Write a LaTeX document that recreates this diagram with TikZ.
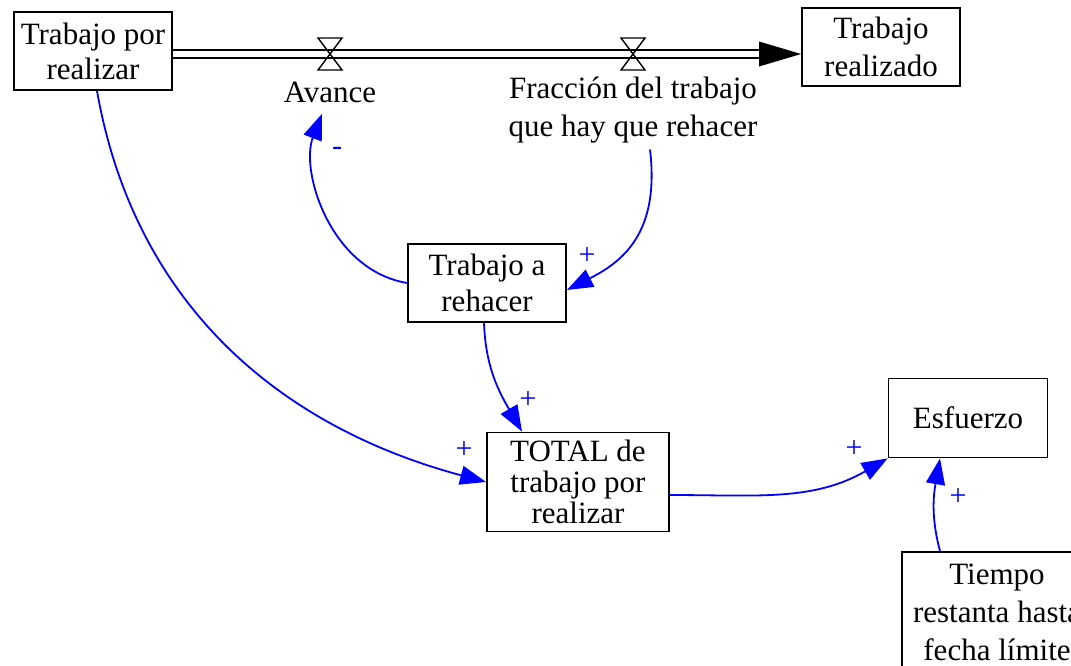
\documentclass[tikz,border=0pt]{standalone}
\usepackage{fontspec}
\setmainfont{Liberation Serif}
\usepackage{tikz}
\usetikzlibrary{positioning, arrows.meta}
\tikzstyle{stock} = [draw, line width=0.9pt, align=center, minimum width=79pt, minimum height=39pt, inner sep=2pt]
\tikzstyle{link} = [blue, line width=0.9pt, -{Triangle[length=13pt,width=9.5pt]}]
\tikzstyle{pipe} = [double, double distance=3.3pt, line width=0.7pt]
\tikzstyle{valve} = [draw, line width=0.7pt]
\tikzstyle{sign} = [text=blue, inner sep=0pt, font=\fontsize{15}{15}\selectfont]
\newcommand{\valvula}[1]{\draw[valve] ([shift={(-12,-16)}]#1) -- ([shift={(12,-16)}]#1) -- ([shift={(-12,16)}]#1) -- ([shift={(12,16)}]#1) -- cycle;}

\begin{document}
\begin{tikzpicture}[x=0.5pt, y=-0.5pt, every node/.style={font=\fontsize{15.5}{18}\selectfont}]
  \useasboundingbox (0,0) rectangle (1071,665);

  % Stocks
  \node[stock, font=\fontsize{15.5}{17.5}\selectfont] (tp) at (93,51) {Trabajo por\\realizar};
  \node[stock, font=\fontsize{15.5}{19}\selectfont] (tr) at (881,47) {Trabajo\\realizado};

  % Flow with its two valves
  \draw[pipe] ([yshift=-1.5pt]tp.east) -- ([xshift=-21pt,yshift=-3.5pt]tr.west);
  \fill ([yshift=-3.5pt]tr.west) -- ++(-42,-12.5) -- ++(0,25) -- cycle;
  \coordinate (v1) at (330,54);
  \coordinate (v2) at (633,54);
  \valvula{v1}
  \valvula{v2}
  \node[inner sep=3pt] (av) at (330,92) {Avance};
  \node[inner sep=3pt, align=center, font=\fontsize{15.5}{19}\selectfont] (fr) at (633,110) {Fracción del trabajo\\que hay que rehacer};

  % Auxiliaries
  \node[stock] (tr2) at (487,283) {Trabajo a\\rehacer};
  \node[stock, minimum width=91pt, minimum height=49.5pt, font=\fontsize{15.5}{15.5}\selectfont] (tot) at (578,482) {TOTAL de\\trabajo por\\realizar};
  \node[stock, minimum width=79.5pt, minimum height=39.5pt] (es) at (968,418) {Esfuerzo};
  \node[stock, minimum width=95pt, minimum height=60pt, font=\fontsize{15.5}{19}\selectfont] (ti) at (997,612) {Tiempo\\restanta hasta\\fecha límite};

  % Links
  \draw[link] ([xshift=2pt]tp.south) to[out=-80, in=165] (tot.west);
  \draw[link] (tr2.west) .. controls +(-77,-13) and +(-22,57) .. ([xshift=-4pt,yshift=-2.5pt]av.south);
  \draw[link] ([xshift=8.5pt]fr.south) .. controls +(10,84) and +(55,-28) .. ([yshift=-3.5pt]tr2.east);
  \draw[link] ([xshift=-1.5pt]tr2.south) to[out=-88, in=120] ([xshift=-28pt]tot.north);
  \draw[link] ([yshift=-6.5pt]tot.east) to[out=0, in=-150] (es.south west);
  \draw[link] ([xshift=-28.5pt]ti.north) to[out=105, in=-100] ([xshift=-14pt]es.south);

  % Polarities
  \node[sign] (s1) at (337,151) {-};
  \node[sign] (s2) at (587,256) {+};
  \node[sign] (s3) at (528,400) {+};
  \node[sign] (s4) at (464,450) {+};
  \node[sign] (s5) at (854,449) {+};
  \node[sign] (s6) at (958,497) {+};
\end{tikzpicture}
\end{document}
